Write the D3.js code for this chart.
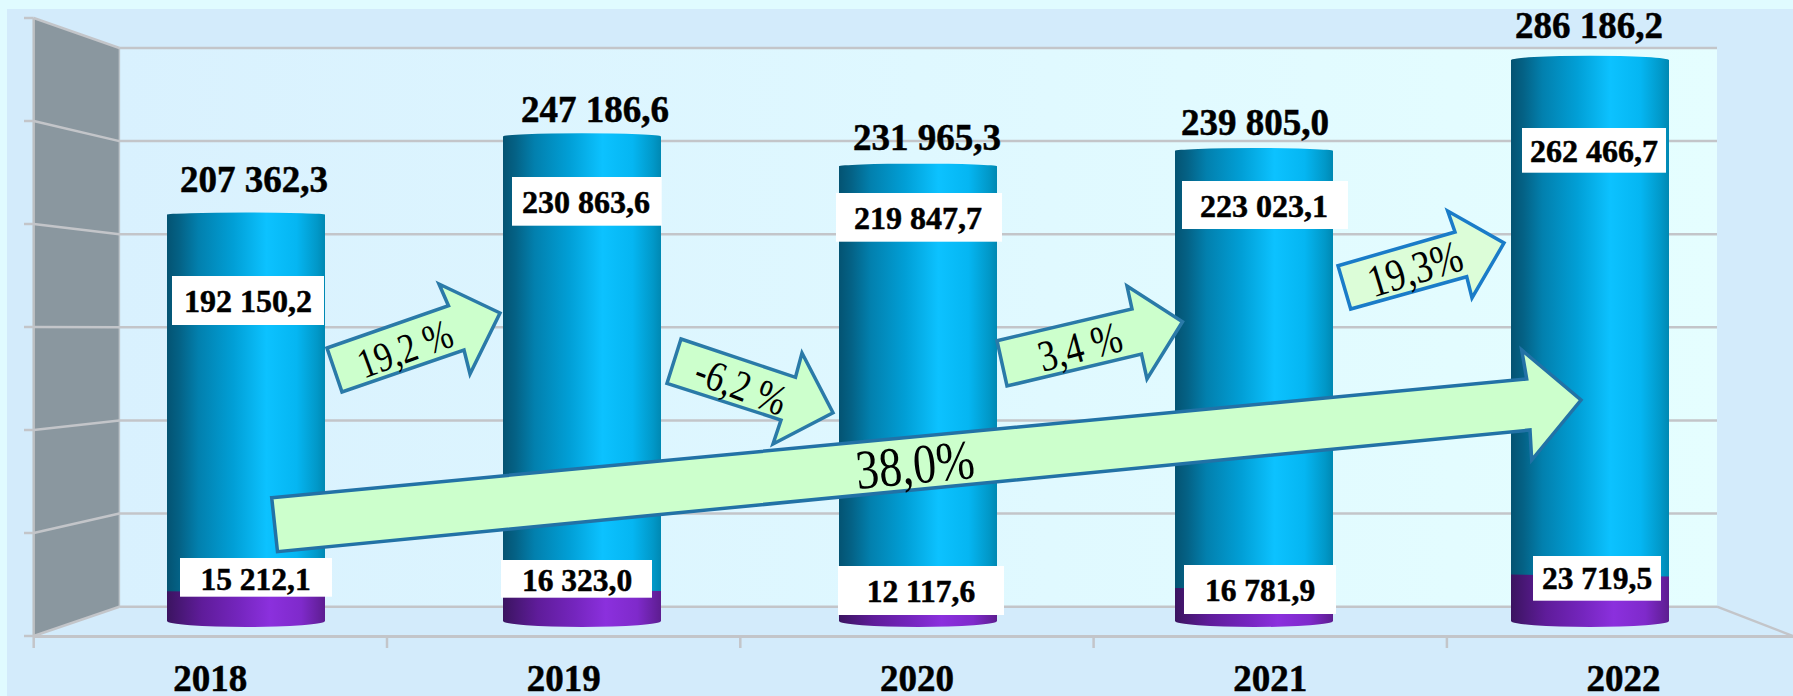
<!DOCTYPE html>
<html><head><meta charset="utf-8">
<style>html,body{margin:0;padding:0;background:#e0fbff}svg{display:block}
text{font-family:"Liberation Serif",serif;fill:#000}</style>
<script src="https://cdn.jsdelivr.net/npm/d3@7/dist/d3.min.js"></script></head>
<body><svg id="c" width="1793" height="696"></svg>
<script>
const years = ["2018","2019","2020","2021","2022"];
const lowerValues = [15212.1,16323.0,12117.6,16781.9,23719.5];
const upperValues = [192150.2,230863.6,219847.7,223023.1,262466.7];
const totalValues = [207362.3,247186.6,231965.3,239805.0,286186.2];
const gridValues = [0,50000,100000,150000,200000,250000,300000];
const growthLabels = ["19,2 %","-6,2 %","3,4 %","19,3%","38,0%"];

const fmt = v => { const [a,b] = v.toFixed(1).split("."); return a.replace(/\B(?=(\d{3})+$)/g," ")+","+b; };

// label placement: box [x0,y0,x1,y1], text centre x, baseline y
const totalPos = [[254,191.5],[595,122],[927,149.5],[1255,135],[1589,38]];
const upperBox = [[172,276,324,325,248,311.5],[512,177,661.7,225.7,586,213],[836,193,1002,241.7,918,229],[1182,181,1348,229,1264,217],[1522,128,1666,172.7,1594,161.5]];
const lowerBox = [[180,558,332,596.7,255.5,590],[501,560,652,597.7,577,591],[838,566,1004,615,921,601.5],[1184,565,1336,614,1260,601],[1533,556,1661,600.7,1597,589]];
// annotation arrows: outline, text centre, text angle, size, fill, stroke
const arrowShapes = [
 {p:[[327,348],[448.5,305.7],[439,284],[500,313],[470,374],[464,350],[342,392]],t:[405,349],a:-20,s:36,f:"#ccffcc",k:"#2a7aa8",w:3.5},
 {p:[[681,339],[795.5,377.3],[802,353],[833,412.7],[773,444],[781,420],[667,383.3]],t:[741,386],a:21,s:37,f:"#ccffcc",k:"#2a7aa8",w:3.5},
 {p:[[997,340.7],[1132,309],[1127,286],[1182.5,321.7],[1147,379],[1141.5,354],[1007,386]],t:[1080,347],a:-15,s:38,f:"#ccffcc",k:"#2a7aa8",w:3.5},
 {p:[[1338,265.7],[1455,232],[1447.7,211],[1504,243],[1472,298],[1466.7,276.7],[1350.7,309]],t:[1415,269],a:-17,s:39,f:"#dcfdd8",k:"#1a7cc8",w:3.5},
];
const bigArrow = {p:[[271.7,497.7],[1526.7,379],[1521.7,350],[1581,400],[1531.7,460],[1530,430],[277.5,551.7]],t:[915,465],a:-5.4,s:48,f:"#ccffcc",k:"#2272a6",w:3.5};

const svg = d3.select("#c"), defs = svg.append("defs");
function grad(id,stops,x2=1,y2=0){const g=defs.append("linearGradient").attr("id",id).attr("x1",0).attr("y1",0).attr("x2",x2).attr("y2",y2);
 stops.forEach(s=>g.append("stop").attr("offset",s[0]).attr("stop-color",s[1]));}
grad("wall",[[0,"#d9f1fe"],[.5,"#dff8ff"],[1,"#e5feff"]]);
grad("blue",[[0,"#045372"],[.08,"#046286"],[.2,"#0280ae"],[.42,"#019fd6"],[.63,"#0cc2ff"],[.82,"#05b6f2"],[.95,"#0198c8"],[1,"#0088b2"]]);
grad("purple",[[0,"#3b1460"],[.22,"#5f1c9a"],[.45,"#7425bd"],[.65,"#8b30dd"],[.85,"#7f2acb"],[1,"#5d1d90"]]);

// frame
svg.append("rect").attr("x",7).attr("y",9).attr("width",1786).attr("height",687).attr("fill","#d3ebfb");
const wallL=119.4, wallR=1717, sideL=33.7;
svg.append("rect").attr("x",wallL).attr("y",48).attr("width",wallR-wallL).attr("height",558.7).attr("fill","url(#wall)");

const yWall = d3.scaleLinear().domain([0,300000]).range([606.7,48]);
const ySide = d3.scaleLinear().domain([0,300000]).range([636,18]);
svg.append("path").attr("d",d3.line()([[sideL,ySide(300000)],[wallL,yWall(300000)],[wallL,yWall(0)],[sideL,ySide(0)]])+"Z").attr("fill","#8a979f");
svg.append("line").attr("x1",sideL).attr("x2",sideL).attr("y1",ySide(300000)).attr("y2",ySide(0)).attr("stroke","#bcbfc2").attr("stroke-width",2.5);
svg.append("line").attr("x1",wallL).attr("x2",wallL).attr("y1",yWall(300000)).attr("y2",yWall(0)).attr("stroke","#bcc4c9").attr("stroke-width",1.5);
const grid = svg.append("g").attr("stroke","#c3c5c9");
grid.selectAll(".w").data(gridValues).join("line").attr("x1",wallL).attr("x2",wallR).attr("y1",yWall).attr("y2",yWall).attr("stroke-width",2.5);
grid.selectAll(".s").data(gridValues).join("line").attr("x1",sideL).attr("x2",wallL).attr("y1",ySide).attr("y2",yWall).attr("stroke-width",2.5);
grid.selectAll(".t").data(gridValues).join("line").attr("x1",24).attr("x2",sideL).attr("y1",ySide).attr("y2",ySide).attr("stroke-width",2.5);
svg.append("line").attr("x1",wallR).attr("x2",1793).attr("y1",yWall(0)).attr("y2",ySide(0)).attr("stroke","#c3c5c9").attr("stroke-width",2.5);

// category axis along the front edge
const xAxis = d3.scaleBand().domain(years).range([sideL,sideL+353.3*5]);
const gx = svg.append("g").attr("transform","translate(0,636)").call(d3.axisBottom(xAxis).tickSize(0).tickPadding(0));
gx.select(".domain").attr("stroke","#c3c5c9").attr("stroke-width",3);
gx.selectAll("text").attr("y",55).attr("dy",null).attr("font-family","Liberation Serif").attr("font-size",37).attr("font-weight","bold").attr("fill","#000").attr("stroke","#000").attr("stroke-width",.5);
gx.selectAll(".tick line").remove();
svg.append("g").selectAll("line").data(years).join("line").attr("x1",d=>xAxis(d)).attr("x2",d=>xAxis(d)).attr("y1",636).attr("y2",648).attr("stroke","#c3c5c9").attr("stroke-width",2.5);

// cylinders
const xBar = d3.scalePoint().domain(years).range([246,1590]);
const hScale = d3.scaleLinear().domain([0,300000]).range([621,33]);
const rx = 79;
const topRy = d3.scaleLinear().domain([207362.3,286186.2]).range([2,4.3]);
const bars = svg.append("g").selectAll("g").data(years).join("g");
bars.append("path").attr("fill","url(#blue)").attr("d",(d,i)=>{
  const c=xBar(d),t=hScale(totalValues[i]),b=hScale(lowerValues[i]),r=topRy(totalValues[i]);
  return `M${c-rx},${t}A${rx},${r} 0 0 1 ${c+rx},${t}V${b+4}H${c-rx}Z`;});
bars.append("path").attr("fill","url(#purple)").attr("d",(d,i)=>{
  const c=xBar(d),t=hScale(lowerValues[i]),b=hScale(0);
  return `M${c-rx},${t}L${c+rx},${t+2}V${b}A${rx},6 0 0 1 ${c-rx},${b}Z`;});

// labels
const lab = svg.append("g");
lab.selectAll(".tot").data(totalValues).join("text").attr("x",(d,i)=>totalPos[i][0]).attr("y",(d,i)=>totalPos[i][1])
  .attr("text-anchor","middle").attr("font-size",37).attr("font-weight","bold").attr("stroke","#000").attr("stroke-width",.5).text(fmt);
function boxed(vals,boxes,size){
  lab.selectAll(null).data(vals).join("rect").attr("x",(d,i)=>boxes[i][0]).attr("y",(d,i)=>boxes[i][1])
    .attr("width",(d,i)=>boxes[i][2]-boxes[i][0]).attr("height",(d,i)=>boxes[i][3]-boxes[i][1]).attr("fill","#fff");
  lab.selectAll(null).data(vals).join("text").attr("x",(d,i)=>boxes[i][4]).attr("y",(d,i)=>boxes[i][5])
    .attr("text-anchor","middle").attr("font-size",size).attr("font-weight","bold").attr("stroke","#000").attr("stroke-width",.5).text(fmt);
}
boxed(upperValues,upperBox,32);
boxed(lowerValues,lowerBox,31.5);

// arrows
function arrow(a,label){
  const g=svg.append("g");
  g.append("path").attr("d",d3.line()(a.p)+"Z").attr("fill",a.f).attr("stroke",a.k).attr("stroke-width",a.w).attr("stroke-linejoin","miter");
  g.append("text").attr("transform",`translate(${a.t}) rotate(${a.a}) scale(0.96,1.16)`).attr("text-anchor","middle").attr("dy","0.33em").attr("font-size",a.s).text(label);
}
arrow(bigArrow,growthLabels[4]);
arrowShapes.forEach((a,i)=>arrow(a,growthLabels[i]));
</script></body></html>
